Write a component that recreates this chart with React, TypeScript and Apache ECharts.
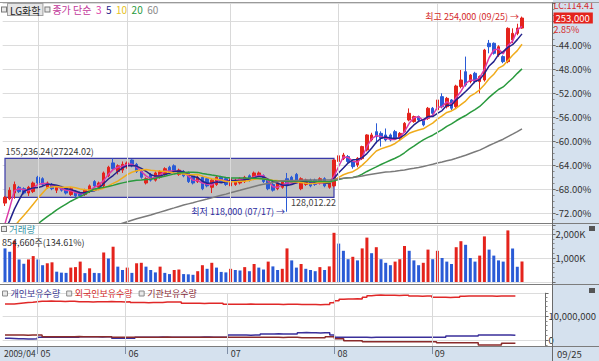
import React, { useEffect, useRef } from "react";
import * as echarts from "echarts";

// ---------- data ----------
const MONTHS: [string, number[]][] = [
  ["04", [22, 23, 24, 27, 28, 29, 30]],
  ["05", [4, 6, 7, 8, 11, 12, 13, 14, 15, 18, 19, 20, 21, 22, 25, 26, 27, 28, 29]],
  ["06", [1, 2, 3, 4, 5, 8, 9, 10, 11, 12, 15, 16, 17, 18, 19, 22, 23, 24, 25, 26, 29, 30]],
  ["07", [1, 2, 3, 6, 7, 8, 9, 10, 13, 14, 15, 16, 17, 20, 21, 22, 23, 24, 27, 28, 29, 30, 31]],
  ["08", [3, 4, 5, 6, 7, 10, 11, 12, 13, 14, 17, 18, 19, 20, 21, 24, 25, 26, 27, 28, 31]],
  ["09", [1, 2, 3, 4, 7, 8, 9, 10, 11, 14, 15, 16, 17, 18, 21, 22, 23, 24, 25]],
];
const DATES: string[] = MONTHS.flatMap(([m, days]) =>
  days.map((d) => `2009/${m}/${String(d).padStart(2, "0")}`)
);
const PAD_CATS = ["p1", "p2", "p3", "p4", "p5", "p6"];
const CATS = [...DATES, ...PAD_CATS];

// prices in thousand won
const OPENS = [
  124, 127, 131, 135, 134, 131, 132, 142, 141, 135,
  137, 133, 135, 134, 130, 132, 131, 130, 132, 139,
  135, 136, 143, 152, 146, 147, 150, 154, 151, 146,
  138, 144, 140, 142, 144, 149, 150, 144, 146, 145,
  143, 139, 142, 141, 135, 137, 142, 141, 136, 137,
  138, 139, 143, 141, 143, 143, 140, 137, 134, 135,
  141, 142, 144, 134, 137, 140, 140, 138, 141, 135,
  136, 153, 155, 156.4, 152.9, 150.6, 155, 161, 168, 173.8,
  172.6, 171.5, 171.5, 173.8, 169.2, 173.8, 181.9, 180.8, 184.3, 181.9,
  183.1, 190.1, 189, 198.2, 191.2, 195.9, 191.2, 205.2, 215.6, 208.7,
  214.5, 208.7, 209.8, 235.4, 235.4, 227.2, 226.1, 222.6, 237.7, 242.3,
  246,
];
const CLOSES = [
  128, 133, 137, 132, 131, 135, 138, 138, 137, 138,
  134, 135, 133, 131, 134, 129, 129, 133, 136, 136,
  138, 145, 149, 148, 150, 151, 152, 150, 146, 142,
  141, 140, 145, 146, 148, 145, 146, 147, 143, 139,
  138, 142, 134, 136, 140, 142, 139, 137, 141, 140,
  141, 142, 140, 145, 145, 139, 134, 133, 138, 139,
  137, 138, 139, 141, 140, 136, 137, 141, 136, 138,
  154, 157, 157.5, 153, 149.4, 155.2, 163.4, 171.5, 171.5, 170.3,
  169.2, 168, 168, 169.2, 172.6, 179.6, 186.6, 184.3, 181.9, 178.5,
  190.1, 186.6, 195.9, 191.2, 197, 190.1, 205.6, 209.8, 206.3, 213.3,
  208.7, 212.2, 230.7, 233, 228.4, 233, 222.6, 245.8, 242.3, 246,
  253,
];
const HIGHS = [
  129, 135, 139, 136, 135, 136, 139, 143, 142, 139,
  138, 136, 136, 135, 135, 133, 132, 134, 137, 140,
  139, 146, 150, 155.2, 151, 153, 153, 154.5, 152, 147,
  142, 145, 146, 147, 149, 150, 151, 148, 147, 146,
  144, 143, 143, 142, 141, 143, 143, 142, 142, 141,
  142, 143, 144, 146, 146, 144, 141, 138, 139, 140,
  145, 143, 145, 142, 141, 141, 141, 142, 142, 139,
  154.5, 158, 159, 157.5, 154, 156, 164, 172, 173, 179.6,
  174, 176, 172.5, 175, 173.5, 180.5, 190, 185, 185, 182.5,
  191, 191, 197, 200.5, 198, 196.5, 206.5, 216.8, 226.1, 214,
  215.5, 213, 231.5, 237.7, 236, 234, 227, 246.5, 245.8, 249,
  254,
];
const LOWS = [
  122, 126, 127, 131, 130, 129, 131, 137, 136, 134,
  133, 131, 132, 130, 129, 128, 128, 129, 131, 135,
  133, 135, 142, 147, 144, 145, 148, 149, 145, 141,
  137, 139, 139, 141, 143, 144, 145, 143, 142, 138,
  137, 138, 133, 135, 131, 136, 138, 136, 135, 136,
  137, 138, 139, 140, 142, 138, 133, 132, 133, 134,
  118, 137, 138, 133, 136, 135, 136, 137, 135, 134,
  135, 152, 154, 152, 148, 149, 154, 160, 167, 165.7,
  163.4, 167, 167, 168, 168, 173, 181, 180, 181, 177.5,
  182, 185.5, 188, 190, 190, 188.9, 190, 204, 205.2, 207.5,
  207.5, 200.5, 208.7, 228.4, 227.5, 226, 221.5, 221.5, 235.4, 241,
  245.5,
];
// closes before 2009/04/22 (only feed the moving averages)
const PRIOR_CLOSES = [
  80, 82, 81, 83, 84, 82, 85, 86, 84, 83, 85, 87, 86, 88, 87, 85, 86, 88, 89, 87,
  86, 88, 90, 89, 87, 88, 89, 86, 85, 87, 88, 86, 87, 89, 88, 86, 85, 87, 88, 89,
  87, 86, 88, 89, 87, 86, 88, 87, 88, 89, 87, 90, 92, 95, 96, 98, 97, 100, 101,
];
const MA_PERIODS = [3, 5, 10, 20, 60];
// volume in thousand shares
const VOLUMES = [
  1400, 1260, 1720, 940, 760, 940, 1080, 940, 700, 780,
  820, 430, 390, 380, 600, 620, 850, 370, 570, 380,
  370, 1230, 980, 1470, 640, 500, 600, 380, 780, 800,
  640, 500, 400, 640, 380, 330, 500, 520, 330, 320,
  300, 450, 700, 550, 800, 600, 420, 400, 550, 500,
  480, 620, 450, 750, 600, 520, 850, 650, 500, 550,
  1400, 900, 600, 750, 550, 500, 450, 620, 500, 650,
  2050, 1600, 1300, 950, 1050, 900, 1400, 1850, 1200, 1450,
  950, 800, 700, 850, 950, 1500, 1300, 900, 700, 800,
  1350, 950, 1300, 1000, 850, 750, 1450, 1700, 1550, 1000,
  850, 1100, 1900, 1350, 1100, 900, 850, 2150, 1400, 634.9,
  854.66,
];
// holdings, million shares
const FOREIGN = [
  15.0, 15.0, 15.2, 15.4, 15.6, 15.7, 15.9, 16.1, 16.1, 16.2,
  16.1, 16.1, 16.0, 16.1, 16.1, 15.9, 15.9, 15.9, 15.8, 15.9,
  15.9, 15.9, 16.0, 15.9, 15.9, 15.8, 15.9, 15.6, 15.6, 15.6,
  15.5, 15.6, 15.6, 15.6, 15.8, 15.8, 15.8, 15.8, 15.3, 15.3,
  15.3, 15.3, 15.2, 15.3, 15.3, 15.3, 15.3, 14.9, 14.9, 14.9,
  14.9, 14.9, 15.0, 14.9, 14.9, 14.9, 14.9, 14.9, 14.9, 14.8,
  14.9, 14.9, 14.9, 14.8, 14.8, 14.8, 14.8, 14.7, 14.8, 14.8,
  15.5, 16.4, 17.0, 17.1, 17.1, 17.2, 17.1, 17.8, 18.4, 18.6,
  18.7, 18.6, 18.6, 18.6, 18.5, 18.6, 18.6, 18.3, 18.3, 18.2,
  18.3, 18.3, 17.8, 17.8, 17.8, 17.7, 17.8, 17.8, 18.2, 18.3,
  18.3, 18.3, 18.3, 18.3, 18.3, 18.2, 18.3, 18.3, 18.3, 18.3,
  18.3,
];
const INDIVIDUAL = [
  0.7, 0.6, 0.5, 0.5, 0.45, 0.45, 0.5, 1.1, 1.1, 1.1,
  1.1, 1.2, 1.1, 1.1, 1.1, 1.1, 1.4, 1.4, 1.4, 1.4,
  1.3, 1.4, 1.4, 0.7, 0.7, 0.7, 0.7, 0.7, 1.1, 1.1,
  1.1, 1.1, 1.1, 1.2, 1.1, 1.1, 1.1, 1.1, 1.1, 1.1,
  1.1, 1.1, 1.2, 1.2, 1.1, 1.1, 1.1, 1.1, 2.1, 2.1,
  2.1, 2.1, 2.0, 2.1, 2.1, 2.5, 2.5, 2.5, 2.6, 2.5,
  2.5, 2.5, 2.5, 3.0, 3.1, 3.0, 3.0, 2.9, 3.0, 3.0,
  2.1, 1.1, 1.1, 1.1, 1.1, 1.1, 1.1, 1.1, 1.0, 1.1,
  1.1, 1.1, 1.1, 1.1, 1.1, 1.1, 1.1, 1.1, 1.1, 1.1,
  1.1, 1.1, 1.1, 1.1, 1.1, 1.7, 1.7, 1.7, 1.7, 1.7,
  1.7, 1.7, 2.1, 2.1, 2.1, 2.1, 2.1, 2.1, 2.1, 2.0,
  2.1,
];
const INSTITUTION = [
  2.1, 2.1, 2.1, 2.1, 2.0, 2.1, 2.1, 2.1, 1.4, 1.4,
  1.4, 1.4, 1.4, 1.4, 1.4, 1.5, 1.4, 1.4, 1.4, 1.4,
  1.4, 1.4, 1.4, 1.1, 1.1, 1.1, 1.1, 1.1, 1.1, 1.1,
  1.1, 1.1, 1.1, 1.1, 1.2, 1.1, 1.1, 1.1, 1.1, 1.1,
  1.1, 1.1, 1.1, 1.1, 1.1, 1.1, 1.1, 1.1, 1.1, 1.1,
  1.1, 1.1, 1.1, 1.1, 1.1, 1.1, 1.1, 1.1, 1.1, 1.0,
  1.1, 1.1, 1.1, 0.9, 0.9, 0.9, 0.9, 0.9, 0.9, 1.4,
  1.4, 0.5, 0.5, -0.3, -0.3, -0.3, -0.3, -0.7, -0.7, -0.7,
  -0.7, -0.7, -0.7, -0.7, -0.7, -0.7, -0.7, -0.7, -0.7, -0.7,
  -0.7, -0.7, -0.7, -1.1, -1.1, -1.1, -1.1, -1.1, -1.1, -1.1,
  -1.1, -1.1, -2.1, -2.1, -2.1, -2.1, -2.1, -1.4, -1.4, -1.4,
  -1.4,
];
const BASE_PRICE = 418.2; // reference price of the % scale (thousand won)
const BOX_HIGH = 155236.24;
const BOX_LOW = 128012.22;
const BOX_NOTE = 27224.02;
const BOX_FROM = "2009/04/22";
const BOX_TO = "2009/07/31";
const LC_TEXT = "LC:114.41";
const PRICE_TICKS = { min: -73.667, max: -37, step: 4 };
const VOL_TICKS = { min: 0, max: 2375, step: 1000 };
const HOLD_TICKS = { min: -2.5, max: 19.5, step: 10 };

// ---------- helpers ----------
const FONT = '"Noto Sans CJK KR", "Noto Sans", sans-serif';
const C_UP = "#e4231c";
const C_DOWN = "#2a5bd6";
const MA_COLORS = ["#dc3aa8", "#23238c", "#f0ac1c", "#2a9a3e", "#7a7a7a"];
const pct = (p: number) => (p / BASE_PRICE - 1) * 100;
const won = (k: number) => Math.round(k * 1000).toLocaleString("en-US");
const N = CLOSES.length;
const onStep = (v: number, step: number) => Math.abs(v / step - Math.round(v / step)) < 1e-6;

const MONTH_STARTS: number[] = DATES.map((d, i) =>
  i === 0 || d.slice(5, 7) !== DATES[i - 1].slice(5, 7) ? i : -1
).filter((i) => i >= 0);
const MONTH_SET = new Set(MONTH_STARTS);

function movingAverage(n: number) {
  const all = [...PRIOR_CLOSES, ...CLOSES];
  const off = PRIOR_CLOSES.length;
  return CLOSES.map((_, i) => {
    let s = 0;
    for (let k = off + i - n + 1; k <= off + i; k++) s += all[k];
    return +pct(s / n).toFixed(3);
  });
}

function buildOption() {
  let hiIdx = 0;
  let loIdx = 0;
  HIGHS.forEach((h, i) => { if (h > HIGHS[hiIdx]) hiIdx = i; });
  LOWS.forEach((l, i) => { if (l < LOWS[loIdx]) loIdx = i; });
  const last = CLOSES[N - 1];
  const chg = (last / CLOSES[N - 2] - 1) * 100;
  const volRatio = (VOLUMES[N - 1] / VOLUMES[N - 2]) * 100;
  const monthLines = MONTH_STARTS.filter((i) => i > 0).map((i) => ({ xAxis: CATS[i] }));
  const gridLineSeries = (g: number) => ({
    type: "line",
    xAxisIndex: g,
    yAxisIndex: g,
    data: [],
    z: -1,
    silent: true,
    markLine: {
      silent: true,
      symbol: ["none", "none"],
      label: { show: false },
      lineStyle: { color: "#d9d9d9", width: 1, type: "solid" },
      data: monthLines,
    },
  });
  const hiddenX = (g: number) => ({
    type: "category",
    gridIndex: g,
    data: CATS,
    boundaryGap: true,
    axisLine: { show: false },
    axisTick: { show: false },
    axisLabel: { show: false },
    splitLine: { show: false },
  });
  const rightY = (g: number, t: any, fmt: (v: number) => string, minorSplit: number) => ({
    type: "value",
    gridIndex: g,
    position: "right",
    min: t.min,
    max: t.max,
    minInterval: t.step,
    maxInterval: t.step,
    axisLine: { show: true, lineStyle: { color: "#6a6a6a" } },
    axisTick: { show: true, length: 3, lineStyle: { color: "#6a6a6a" } },
    minorTick: { show: true, splitNumber: minorSplit, length: 2, lineStyle: { color: "#8a8a8a" } },
    axisLabel: {
      margin: 3,
      fontSize: 9.5,
      color: "#333",
      fontFamily: FONT,
      showMinLabel: true,
      showMaxLabel: true,
      hideOverlap: false,
      formatter: (v: number) => (onStep(v, t.step) ? fmt(v) : ""),
    },
    splitLine: { show: true, lineStyle: { color: "#dcdcdc", width: 1 } },
  });

  const legendItem = (name: string, color: string) => ({
    name,
    textStyle: { color },
    itemStyle: { color: "#e8e8e8", borderColor: "#8a8a8a", borderWidth: 1 },
  });
  const sqStyle = { width: 4, height: 4, backgroundColor: "#e8e8e8", borderColor: "#7a7a7a", borderWidth: 1 };

  return {
    animation: false,
    backgroundColor: "#ffffff",
    textStyle: { fontFamily: FONT },
    title: [
      {
        left: 2,
        top: 4,
        padding: 0,
        text:
          "{sq| }{gap| }{nm|LG화학}{gap2| }{sq| }{gap2| }{ma|종가 단순}  {m3|3}  {m5|5}  {m10|10}  {m20|20}  {m60|60}",
        textStyle: {
          fontSize: 10,
          fontWeight: "normal",
          fontFamily: FONT,
          rich: {
            sq: sqStyle,
            gap: { width: 2 },
            gap2: { width: 3 },
            nm: { color: "#222", fontSize: 10, backgroundColor: "#e6e6e6", borderColor: "#a0a0a0", borderWidth: 1, padding: [1, 2, 0, 2] },
            ma: { color: "#c2389a", fontSize: 10 },
            m3: { color: MA_COLORS[0], fontSize: 10 },
            m5: { color: MA_COLORS[1], fontSize: 10 },
            m10: { color: "#e6c21e", fontSize: 10 },
            m20: { color: MA_COLORS[3], fontSize: 10 },
            m60: { color: "#8a8a8a", fontSize: 10 },
          },
        },
      },
      {
        left: 2,
        top: 224,
        padding: 0,
        text: "{sq| }{gap| }{v|거래량}",
        textStyle: {
          fontSize: 9,
          fontWeight: "normal",
          fontFamily: FONT,
          lineHeight: 10,
          rich: {
            sq: sqStyle,
            gap: { width: 3 },
            v: { color: "#3c98a8", fontSize: 9.5, lineHeight: 10 },
          },
        },
      },
      {
        left: 2,
        top: 237,
        padding: 0,
        text: `${won(VOLUMES[N - 1])}주(${volRatio.toFixed(2)}%)`,
        textStyle: { fontSize: 9, fontWeight: "normal", fontFamily: FONT, color: "#333", lineHeight: 10 },
      },
    ],
    legend: {
      left: 2,
      top: 289,
      padding: 0,
      icon: "rect",
      itemWidth: 5,
      itemHeight: 5,
      itemGap: 6,
      selectedMode: false,
      textStyle: { fontSize: 9, fontFamily: FONT, padding: [0, 0, 0, -2] },
      data: [
        legendItem("개인보유수량", "#3a3690"),
        legendItem("외국인보유수량", "#d42a2a"),
        legendItem("기관보유수량", "#8a2d3a"),
      ],
    },
    grid: [
      { left: 2.65, width: 549.9, top: 3, height: 220 },
      { left: 2.65, width: 549.9, top: 225, height: 57 },
      { left: 2.65, width: 549.9, top: 293.2, height: 52.8 },
    ],
    xAxis: [
      hiddenX(0),
      hiddenX(1),
      {
        type: "category",
        gridIndex: 2,
        data: CATS,
        boundaryGap: true,
        axisLine: { show: false },
        axisTick: {
          show: true,
          alignWithLabel: true,
          interval: (i: number) => MONTH_SET.has(i) && i > 0,
          length: 14,
          lineStyle: { color: "#7f8ea6" },
        },
        axisLabel: {
          show: true,
          showMinLabel: true,
          hideOverlap: false,
          interval: (i: number) => MONTH_SET.has(i),
          formatter: (v: string, i: number) => (i === 0 ? `{a|${v.slice(0, 7)}}` : `{b|${v.slice(5, 7)}}`),
          align: "left",
          margin: 3,
          fontSize: 9,
          color: "#333",
          fontFamily: FONT,
          rich: {
            a: { fontSize: 8.5, color: "#333", fontFamily: FONT, padding: [0, 0, 0, -1] },
            b: { fontSize: 9, color: "#333", fontFamily: FONT, padding: [0, 0, 0, 3] },
          },
        },
        splitLine: { show: false },
      },
    ],
    yAxis: [
      rightY(0, PRICE_TICKS, (v: number) => (Math.abs(v + 40) < 1e-6 ? "" : `${v.toFixed(2)}%`), 4),
      rightY(1, VOL_TICKS, (v: number) => (v === 0 ? "" : `${v.toLocaleString("en-US")}K`), 5),
      rightY(2, HOLD_TICKS, (v: number) => Math.abs(Math.round(v * 1e6)).toLocaleString("en-US"), 5),
    ],
    graphic: [
      { type: "rect", z: -10, silent: true, shape: { x: 553, y: 0, width: 46, height: 361 }, style: { fill: "#d5e1ee" } },
      { type: "rect", z: -10, silent: true, shape: { x: 0, y: 347, width: 553, height: 14 }, style: { fill: "#d5e1ee" } },
      { type: "line", z: 20, silent: true, shape: { x1: 0, y1: 2.5, x2: 599, y2: 2.5 }, style: { stroke: "#9a9a9a", lineWidth: 1 } },
      { type: "line", z: 20, silent: true, shape: { x1: 0, y1: 223.5, x2: 599, y2: 223.5 }, style: { stroke: "#7c7c7c", lineWidth: 1 } },
      { type: "line", z: 20, silent: true, shape: { x1: 0, y1: 284.5, x2: 599, y2: 284.5 }, style: { stroke: "#7c7c7c", lineWidth: 1 } },
      { type: "line", z: 20, silent: true, shape: { x1: 0, y1: 346.5, x2: 599, y2: 346.5 }, style: { stroke: "#7c7c7c", lineWidth: 1 } },
      { type: "line", z: 20, silent: true, shape: { x1: 552.5, y1: 2.5, x2: 552.5, y2: 361 }, style: { stroke: "#6a6a6a", lineWidth: 1 } },
      { type: "rect", z: 20, silent: true, shape: { x: 589, y: 226, width: 6, height: 5 }, style: { fill: "#555" } },
      { type: "rect", z: 20, silent: true, shape: { x: 589, y: 288, width: 6, height: 5 }, style: { fill: "#555" } },
      {
        type: "text",
        z: 20,
        silent: true,
        x: 557,
        y: 354,
        style: { text: DATES[N - 1].slice(5), fill: "#333", fontSize: 9.5, fontFamily: FONT, verticalAlign: "middle" },
      },
    ],
    series: [
      {
        type: "line",
        xAxisIndex: 0,
        yAxisIndex: 0,
        data: [],
        z: -2,
        silent: true,
        markArea: {
          silent: true,
          itemStyle: { color: "#c2c2c2", borderColor: "#3a3aa8", borderWidth: 1.2 },
          label: {
            show: true,
            position: [1, -11],
            color: "#333",
            fontSize: 9,
            fontFamily: FONT,
            formatter: `${BOX_HIGH.toLocaleString("en-US", { minimumFractionDigits: 2 })}(${BOX_NOTE.toFixed(2)})`,
          },
          data: [[{ xAxis: BOX_FROM, yAxis: pct(BOX_HIGH / 1000) }, { xAxis: BOX_TO, yAxis: pct(BOX_LOW / 1000) }]],
        },
        markPoint: {
          silent: true,
          symbol: "circle",
          symbolSize: 0,
          data: [
            {
              coord: [BOX_TO, pct(BOX_LOW / 1000)],
              label: {
                show: true,
                position: [2, 1],
                align: "right",
                verticalAlign: "top",
                color: "#444",
                fontSize: 9,
                fontFamily: FONT,
                formatter: BOX_LOW.toLocaleString("en-US", { minimumFractionDigits: 2 }),
              },
            },
          ],
        },
      },
      gridLineSeries(0),
      {
        type: "candlestick",
        name: "LG화학",
        xAxisIndex: 0,
        yAxisIndex: 0,
        z: 3,
        barWidth: 3,
        data: CLOSES.map((c, i) => [pct(OPENS[i]), pct(c), pct(LOWS[i]), pct(HIGHS[i])]),
        itemStyle: { color: C_UP, color0: C_DOWN, borderColor: C_UP, borderColor0: C_DOWN, borderWidth: 1 },
        markPoint: {
          silent: true,
          symbol: "circle",
          symbolSize: 0,
          data: [
            {
              coord: [CATS[hiIdx], pct(HIGHS[hiIdx])],
              label: {
                show: true,
                position: "left",
                distance: 3,
                color: "#d42a2a",
                fontSize: 9,
                fontFamily: FONT,
                formatter: `최고 ${won(HIGHS[hiIdx])} (${DATES[hiIdx].slice(5)}) →`,
              },
            },
            {
              coord: [CATS[loIdx], pct(LOWS[loIdx])],
              label: {
                show: true,
                position: "left",
                distance: 2,
                color: "#2d2da0",
                fontSize: 9,
                fontFamily: FONT,
                formatter: `최저 ${won(LOWS[loIdx])} (${DATES[loIdx].slice(5)}) →`,
              },
            },
          ],
        },
        markLine: {
          silent: true,
          symbol: ["none", "none"],
          lineStyle: { color: "rgba(0,0,0,0)", width: 1 },
          data: [
            {
              yAxis: pct(last),
              lineStyle: { color: "rgba(0,0,0,0)" },
              label: {
                show: true,
                position: "end",
                distance: 1,
                fontFamily: FONT,
                color: "#d42a2a",
                formatter: `{lc|${LC_TEXT}}\n{p|${won(last)}}\n{c|${chg.toFixed(2)}%}`,
                rich: {
                  lc: { color: "#d42a2a", fontSize: 9, lineHeight: 12, fontFamily: FONT },
                  p: { color: "#ffffff", backgroundColor: "#e4231c", fontSize: 9.5, lineHeight: 12, height: 11, padding: [0, 3, 0, 2], fontFamily: FONT },
                  c: { color: "#d42a2a", fontSize: 9, lineHeight: 12, fontFamily: FONT },
                },
              },
            },
          ],
        },
      },
      ...MA_PERIODS.map((n, k) => ({
        type: "line",
        name: `MA${n}`,
        xAxisIndex: 0,
        yAxisIndex: 0,
        z: 4,
        showSymbol: false,
        symbol: "none",
        silent: true,
        data: movingAverage(n),
        lineStyle: { color: MA_COLORS[k], width: 1.5 },
      })),
      gridLineSeries(1),
      {
        type: "bar",
        name: "거래량",
        xAxisIndex: 1,
        yAxisIndex: 1,
        barWidth: 3,
        z: 3,
        data: VOLUMES.map((v, i) => ({
          value: v,
          itemStyle: { color: i > 0 && v > VOLUMES[i - 1] ? C_UP : C_DOWN },
        })),
      },
      gridLineSeries(2),
      {
        type: "line",
        name: "개인보유수량",
        xAxisIndex: 2,
        yAxisIndex: 2,
        z: 3,
        step: "end",
        symbol: "none",
        showSymbol: false,
        data: INDIVIDUAL,
        itemStyle: { color: "#3a2f9a" },
        lineStyle: { color: "#3a2f9a", width: 1.5 },
      },
      {
        type: "line",
        name: "외국인보유수량",
        xAxisIndex: 2,
        yAxisIndex: 2,
        z: 3,
        step: "end",
        symbol: "none",
        showSymbol: false,
        data: FOREIGN,
        itemStyle: { color: "#e02828" },
        lineStyle: { color: "#e02828", width: 1.5 },
      },
      {
        type: "line",
        name: "기관보유수량",
        xAxisIndex: 2,
        yAxisIndex: 2,
        z: 3,
        step: "end",
        symbol: "none",
        showSymbol: false,
        data: INSTITUTION,
        itemStyle: { color: "#8a2b2b" },
        lineStyle: { color: "#8a2b2b", width: 1.5 },
      },
    ],
  };
}

export default function App() {
  const ref = useRef<HTMLDivElement>(null);
  useEffect(() => {
    if (!ref.current) return;
    const chart = echarts.init(ref.current, null, { renderer: "svg" });
    chart.setOption(buildOption() as any);
    return () => chart.dispose();
  }, []);
  return (
    <div
      ref={ref}
      style={{ position: "fixed", left: 0, top: 0, width: 599, height: 361 }}
    />
  );
}
